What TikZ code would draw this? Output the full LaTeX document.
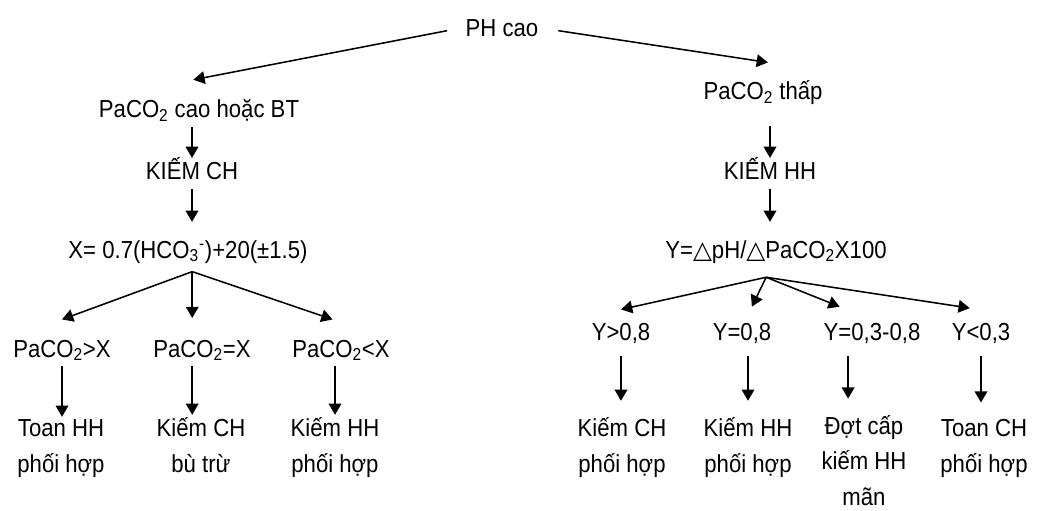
\documentclass[tikz,border=0pt]{standalone}
\usepackage{fontspec}
\setmainfont{Liberation Sans}[FakeStretch=0.9]
\newfontfamily\symfont{DejaVu Sans}
\usetikzlibrary{arrows.meta}

\tikzset{
  lbl/.style={inner sep=3pt, text height=12.5pt, text depth=3.5pt, anchor=base},
  twoline/.style={inner sep=2pt, align=center, anchor=base},
  arr/.style={-{Triangle[length=8pt,width=9pt]}, line width=1.1pt}
}

\begin{document}
\begin{tikzpicture}[x=0.025cm, y=-0.025cm, font=\fontsize{17.5}{25}\selectfont]
        \useasboundingbox (0,0) rectangle (1037,511);

        \node[lbl] (ph) at (502,37) {PH cao};

        \node[lbl] (paco) at (199,118) {PaCO\textsubscript{2} cao hoặc BT};
        \node[lbl] (kch) at (192,180) {KIẾM CH};
        \node[lbl] (xf) at (188,258) {X= 0.7(HCO\textsubscript{3}\textsuperscript{-})+20(±1.5)};
        \node[lbl] (gt) at (62,357) {PaCO\textsubscript{2}>X};
        \node[lbl] (eq) at (202,357) {PaCO\textsubscript{2}=X};
        \node[lbl] (lt) at (341,357) {PaCO\textsubscript{2}<X};
        \node[twoline] (r1) at (61,472) {Toan HH\\phối hợp};
        \node[twoline] (r2) at (201,472) {Kiếm CH\\bù trừ};
        \node[twoline] (r3) at (335,472) {Kiếm HH\\phối hợp};

        \node[lbl] (thap) at (763,100) {PaCO\textsubscript{2} thấp};
        \node[lbl] (khh) at (770,180) {KIẾM HH};
        \node[lbl] (yf) at (776,258) {Y={\symfont △}pH/{\symfont △}PaCO\textsubscript{2}X100};
        \node[lbl] (y1) at (621,340) {Y>0,8};
        \node[lbl] (y2) at (742,340) {Y=0,8};
        \node[lbl] (y3) at (872,340) {Y=0,3-0,8};
        \node[lbl] (y4) at (981,340) {Y<0,3};
        \node[twoline] (s1) at (622,472) {Kiếm CH\\phối hợp};
        \node[twoline] (s2) at (748,472) {Kiếm HH\\phối hợp};
        \node[twoline] (s3) at (864,505) {Đợt cấp\\kiếm HH\\mãn};
        \node[twoline] (s4) at (984,472) {Toan CH\\phối hợp};

        \coordinate (xapex) at ([xshift=3pt,yshift=-3pt]xf.south);
        \coordinate (yapex) at ([xshift=-7pt,yshift=-7pt]yf.south);
        \coordinate (y3foot) at ([xshift=-17pt]y3.south);

        \draw[arr] ([xshift=-10pt]ph.west) -- ([xshift=-4pt,yshift=11.5pt]paco.north);
        \draw[arr] ([xshift=11pt]ph.east) -- ([xshift=3.5pt,yshift=11pt]thap.north);

        \draw[arr] (paco.south -| kch.north) -- (kch.north);
        \draw[arr, shorten >=10pt] (kch.south) -- (kch.south |- xf.north);
        \draw[arr] (xapex) -- ([yshift=11pt]gt.north);
        \draw[arr, shorten >=12pt] (xapex) -- (xapex |- eq.north);
        \draw[arr] (xapex) -- ([xshift=-6pt,yshift=11pt]lt.north);
        \draw[arr] (gt.south) -- (gt.south |- r1.north);
        \draw[arr] (eq.south -| xapex) -- (xapex |- r2.north);
        \draw[arr] (lt.south -| r3.north) -- (r3.north);

        \draw[arr, shorten <=12pt] (thap.south -| khh.north) -- (khh.north);
        \draw[arr, shorten >=10pt] (khh.south) -- (khh.south |- yf.north);
        \draw[arr] (yapex) -- ([yshift=6pt]y1.north);
        \draw[arr] (yapex) -- ([xshift=7pt,yshift=8pt]y2.north);
        \draw[arr] (yapex) -- ([xshift=-23pt,yshift=8pt]y3.north);
        \draw[arr] (yapex) -- ([xshift=-8pt,yshift=7pt]y4.north);
        \draw[arr, shorten <=5pt, shorten >=10pt] (y1.south) -- (y1.south |- s1.north);
        \draw[arr, shorten <=5pt, shorten >=10pt] (y2.south -| s2.north) -- (s2.north);
        \draw[arr, shorten <=5pt, shorten >=10pt] (y3foot) -- (y3foot |- s3.north);
        \draw[arr, shorten <=5pt, shorten >=10pt] (y4.south) -- (y4.south |- s4.north);
\end{tikzpicture}
\end{document}
